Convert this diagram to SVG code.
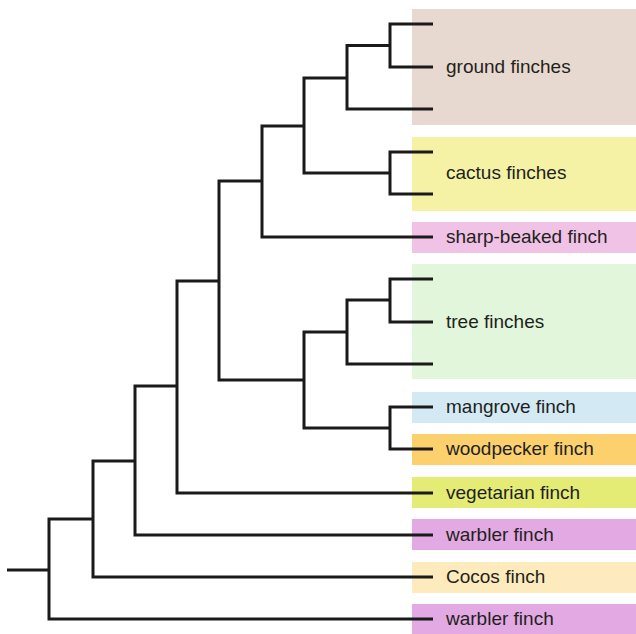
<svg xmlns="http://www.w3.org/2000/svg" width="636" height="634" viewBox="0 0 636 634">
<style>
.lbl{font-family:"Liberation Sans",Arial,sans-serif;font-size:19px;fill:#231f20}
.br{fill:none;stroke:#1a1a1a;stroke-width:3;stroke-linejoin:miter;stroke-linecap:butt}
</style>
<rect width="636" height="634" fill="#ffffff"/>
<g id="ground-finches"><rect x="412" y="9" width="224" height="116" fill="#e7d9cf"/><text class="lbl" x="446" y="72.5">ground finches</text></g>
<g id="cactus-finches"><rect x="412" y="137" width="224" height="74" fill="#f5f2a6"/><text class="lbl" x="446" y="178.5">cactus finches</text></g>
<g id="sharp-beaked-finch"><rect x="412" y="222" width="224" height="31" fill="#f0c2e6"/><text class="lbl" x="446" y="242.5">sharp-beaked finch</text></g>
<g id="tree-finches"><rect x="412" y="264" width="224" height="115" fill="#e1f6da"/><text class="lbl" x="446" y="327.5">tree finches</text></g>
<g id="mangrove-finch"><rect x="412" y="392" width="224" height="31" fill="#d3eaf5"/><text class="lbl" x="446" y="412.5">mangrove finch</text></g>
<g id="woodpecker-finch"><rect x="412" y="434" width="224" height="31" fill="#fdd06e"/><text class="lbl" x="446" y="454.5">woodpecker finch</text></g>
<g id="vegetarian-finch"><rect x="412" y="477" width="224" height="31" fill="#e5ec76"/><text class="lbl" x="446" y="498.5">vegetarian finch</text></g>
<g id="warbler-finch-1"><rect x="412" y="519" width="224" height="31" fill="#e2a9e2"/><text class="lbl" x="446" y="540.5">warbler finch</text></g>
<g id="cocos-finch"><rect x="412" y="562" width="224" height="31" fill="#feebbd"/><text class="lbl" x="446" y="582.5">Cocos finch</text></g>
<g id="warbler-finch-2"><rect x="412" y="604" width="224" height="31" fill="#e2a9e2"/><text class="lbl" x="446" y="624.5">warbler finch</text></g>
<g id="connectors" class="br">
<path d="M433,24 H390 V67 H433 M390,45.5 H347 V109 H433"/>
<path d="M433,152 H390 V194 H433"/>
<path d="M347,78 H304 V173 H390"/>
<path d="M304,126 H262 V237 H433"/>
<path d="M433,279 H390 V322 H433 M390,300 H347 V364 H433"/>
<path d="M433,407 H390 V449 H433"/>
<path d="M347,332 H304 V428 H390"/>
<path d="M262,181 H219 V380 H304"/>
<path d="M219,281 H177 V493 H433"/>
<path d="M177,386 H135 V535 H433"/>
<path d="M135,461 H93 V577 H433"/>
<path d="M93,519 H49 V619 H433"/>
<path d="M7,570 H49"/>
</g>
</svg>
